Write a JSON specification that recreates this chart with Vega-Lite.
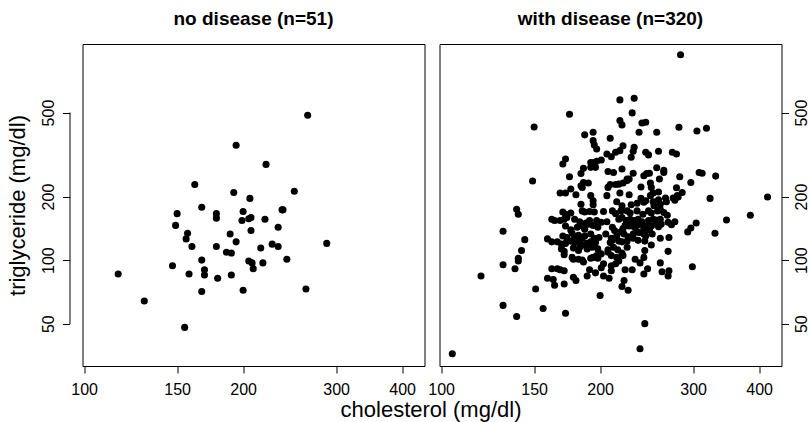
{
  "$schema": "https://vega.github.io/schema/vega-lite/v6.json",
  "autosize": {"type": "pad"},
  "padding": {"left": 5.5, "top": 9, "right": 2, "bottom": 3},
  "background": "white",
  "config": {
    "font": "Liberation Sans",
    "view": {"stroke": "#000", "strokeWidth": 1},
    "axis": {
      "grid": false, "domain": false, "tickColor": "#000", "tickSize": 7, "tickWidth": 1,
      "labelColor": "#000", "labelFontSize": 16, "labelFont": "Liberation Sans",
      "labelFlush": false, "labelOverlap": false,
      "titleFont": "Liberation Sans", "titleFontWeight": "normal", "titleFontSize": 22, "titleColor": "#000"
    },
    "title": {"fontSize": 19, "fontWeight": "bold", "color": "#000", "font": "Liberation Sans", "baseline": "alphabetic", "offset": 15, "anchor": "middle"}
  },
  "datasets": {
    "healthy": [
      {"chol":116,"trig":86},{"chol":130,"trig":64},{"chol":155,"trig":48},{"chol":147,"trig":94},{"chol":149,"trig":146},
      {"chol":150,"trig":166},{"chol":157,"trig":134},{"chol":156,"trig":126},{"chol":160,"trig":116},{"chol":158,"trig":86},
      {"chol":162,"trig":228},{"chol":167,"trig":178},{"chol":167,"trig":100},{"chol":167,"trig":71},{"chol":169,"trig":85},
      {"chol":169,"trig":90},{"chol":178,"trig":166},{"chol":178,"trig":158},{"chol":178,"trig":116},{"chol":179,"trig":82},
      {"chol":186,"trig":109},{"chol":189,"trig":133},{"chol":190,"trig":108},{"chol":190,"trig":85},{"chol":192,"trig":209},
      {"chol":194,"trig":122},{"chol":194,"trig":350},{"chol":199,"trig":154},{"chol":200,"trig":170},{"chol":200,"trig":72},
      {"chol":205,"trig":157},{"chol":207,"trig":159},{"chol":206,"trig":196},{"chol":207,"trig":138},{"chol":205,"trig":99},
      {"chol":208,"trig":97},{"chol":209,"trig":91},{"chol":216,"trig":114},{"chol":218,"trig":97},{"chol":220,"trig":156},
      {"chol":221,"trig":284},{"chol":227,"trig":119},{"chol":233,"trig":143},{"chol":233,"trig":116},{"chol":237,"trig":173},
      {"chol":238,"trig":173},{"chol":242,"trig":101},{"chol":250,"trig":212},{"chol":263,"trig":73},{"chol":265,"trig":485},
      {"chol":288,"trig":120}
    ],
    "disease": [
      {"chol":284,"trig":939},{"chol":218,"trig":574},{"chol":232,"trig":584},{"chol":230,"trig":498},{"chol":175,"trig":491},
      {"chol":150,"trig":427},{"chol":218,"trig":458},{"chol":220,"trig":437},{"chol":240,"trig":446},{"chol":244,"trig":450},
      {"chol":237,"trig":403},{"chol":256,"trig":403},{"chol":282,"trig":426},{"chol":305,"trig":409},{"chol":318,"trig":421},
      {"chol":187,"trig":392},{"chol":194,"trig":403},{"chol":209,"trig":378},{"chol":194,"trig":368},{"chol":195,"trig":351},
      {"chol":197,"trig":336},{"chol":221,"trig":348},{"chol":232,"trig":342},{"chol":231,"trig":328},{"chol":206,"trig":318},
      {"chol":210,"trig":309},{"chol":214,"trig":324},{"chol":218,"trig":330},{"chol":244,"trig":324},{"chol":247,"trig":315},
      {"chol":258,"trig":328},{"chol":274,"trig":324},{"chol":279,"trig":318},{"chol":172,"trig":301},{"chol":170,"trig":285},
      {"chol":192,"trig":290},{"chol":195,"trig":290},{"chol":197,"trig":294},{"chol":201,"trig":298},{"chol":229,"trig":307},
      {"chol":192,"trig":275},{"chol":196,"trig":275},{"chol":186,"trig":272},{"chol":184,"trig":257},{"chol":175,"trig":248},
      {"chol":207,"trig":263},{"chol":212,"trig":260},{"chol":220,"trig":270},{"chol":225,"trig":242},{"chol":231,"trig":258},
      {"chol":242,"trig":251},{"chol":245,"trig":257},{"chol":248,"trig":258},{"chol":256,"trig":274},{"chol":264,"trig":266},
      {"chol":264,"trig":260},{"chol":259,"trig":242},{"chol":283,"trig":248},{"chol":297,"trig":233},{"chol":308,"trig":260},
      {"chol":312,"trig":258},{"chol":331,"trig":250},{"chol":149,"trig":237},{"chol":168,"trig":208},{"chol":172,"trig":208},
      {"chol":176,"trig":217},{"chol":180,"trig":204},{"chol":184,"trig":225},{"chol":186,"trig":233},{"chol":190,"trig":232},
      {"chol":185,"trig":221},{"chol":192,"trig":202},{"chol":207,"trig":221},{"chol":209,"trig":228},{"chol":214,"trig":228},
      {"chol":217,"trig":229},{"chol":221,"trig":232},{"chol":227,"trig":242},{"chol":218,"trig":208},{"chol":227,"trig":204},
      {"chol":239,"trig":222},{"chol":249,"trig":232},{"chol":250,"trig":221},{"chol":252,"trig":208},{"chol":258,"trig":210},
      {"chol":239,"trig":196},{"chol":249,"trig":202},{"chol":266,"trig":197},{"chol":275,"trig":197},{"chol":279,"trig":220},
      {"chol":281,"trig":199},{"chol":286,"trig":209},{"chol":280,"trig":202},{"chol":323,"trig":196},{"chol":415,"trig":199},
      {"chol":206,"trig":202},{"chol":225,"trig":238},
      {"chol":139,"trig":174},{"chol":140,"trig":165},{"chol":131,"trig":137},{"chol":144,"trig":125},{"chol":142,"trig":111},
      {"chol":140,"trig":102},{"chol":140,"trig":99},{"chol":138,"trig":91},{"chol":131,"trig":95},{"chol":119,"trig":84},
      {"chol":159,"trig":126},{"chol":162,"trig":122},{"chol":151,"trig":73},{"chol":159,"trig":82},{"chol":163,"trig":81},
      {"chol":164,"trig":76},{"chol":171,"trig":77},{"chol":156,"trig":59},{"chol":172,"trig":56},{"chol":131,"trig":61},
      {"chol":139,"trig":54},{"chol":105,"trig":36},{"chol":243,"trig":50},{"chol":238,"trig":38},{"chol":200,"trig":68},
      {"chol":220,"trig":75},{"chol":226,"trig":72},{"chol":299,"trig":93},{"chol":304,"trig":150},{"chol":297,"trig":142},
      {"chol":293,"trig":136},{"chol":347,"trig":155},{"chol":385,"trig":163},{"chol":330,"trig":134},{"chol":270,"trig":128},
      {"chol":269,"trig":110},{"chol":260,"trig":127},
      {"chol":184,"trig":184},{"chol":194,"trig":191},{"chol":194,"trig":183},{"chol":220,"trig":181},{"chol":229,"trig":183},
      {"chol":235,"trig":186},{"chol":242,"trig":188},{"chol":244,"trig":191},{"chol":252,"trig":189},{"chol":253,"trig":181},
      {"chol":258,"trig":193},{"chol":260,"trig":184},{"chol":267,"trig":189},{"chol":277,"trig":192},{"chol":215,"trig":189},
      {"chol":170,"trig":169},{"chol":172,"trig":165},{"chol":176,"trig":167},{"chol":185,"trig":171},{"chol":187,"trig":169},
      {"chol":191,"trig":170},{"chol":195,"trig":169},{"chol":203,"trig":170},{"chol":211,"trig":171},{"chol":214,"trig":166},
      {"chol":219,"trig":171},{"chol":225,"trig":171},{"chol":228,"trig":167},{"chol":235,"trig":171},{"chol":241,"trig":165},
      {"chol":247,"trig":171},{"chol":250,"trig":167},{"chol":257,"trig":171},{"chol":260,"trig":174},{"chol":264,"trig":168},
      {"chol":268,"trig":163},
      {"chol":162,"trig":156},{"chol":164,"trig":154},{"chol":168,"trig":154},{"chol":171,"trig":156},{"chol":173,"trig":159},
      {"chol":179,"trig":156},{"chol":183,"trig":152},{"chol":188,"trig":150},{"chol":191,"trig":154},{"chol":197,"trig":154},
      {"chol":201,"trig":151},{"chol":206,"trig":152},{"chol":217,"trig":156},{"chol":220,"trig":159},{"chol":224,"trig":154},
      {"chol":228,"trig":156},{"chol":232,"trig":154},{"chol":236,"trig":156},{"chol":240,"trig":152},{"chol":247,"trig":154},
      {"chol":252,"trig":156},{"chol":255,"trig":155},{"chol":260,"trig":156},{"chol":269,"trig":151},{"chol":277,"trig":152},
      {"chol":172,"trig":145},{"chol":176,"trig":139},{"chol":181,"trig":143},{"chol":185,"trig":145},{"chol":187,"trig":140},
      {"chol":190,"trig":148},{"chol":194,"trig":146},{"chol":198,"trig":143},{"chol":211,"trig":143},{"chol":213,"trig":138},
      {"chol":221,"trig":141},{"chol":223,"trig":146},{"chol":227,"trig":145},{"chol":230,"trig":149},{"chol":232,"trig":144},
      {"chol":235,"trig":146},{"chol":239,"trig":148},{"chol":242,"trig":141},{"chol":244,"trig":145},{"chol":248,"trig":139},
      {"chol":250,"trig":145},{"chol":255,"trig":148},{"chol":258,"trig":144},{"chol":261,"trig":148},{"chol":273,"trig":147},
      {"chol":170,"trig":130},{"chol":173,"trig":128},{"chol":177,"trig":134},{"chol":179,"trig":128},{"chol":182,"trig":131},
      {"chol":185,"trig":127},{"chol":187,"trig":130},{"chol":192,"trig":133},{"chol":195,"trig":127},{"chol":199,"trig":128},
      {"chol":205,"trig":133},{"chol":210,"trig":127},{"chol":215,"trig":130},{"chol":219,"trig":136},{"chol":222,"trig":133},
      {"chol":226,"trig":129},{"chol":231,"trig":133},{"chol":234,"trig":136},{"chol":237,"trig":135},{"chol":242,"trig":133},
      {"chol":244,"trig":130},{"chol":251,"trig":133},
      {"chol":166,"trig":122},{"chol":169,"trig":119},{"chol":172,"trig":120},{"chol":176,"trig":123},{"chol":179,"trig":121},
      {"chol":183,"trig":123},{"chol":186,"trig":118},{"chol":189,"trig":120},{"chol":192,"trig":122},{"chol":196,"trig":121},
      {"chol":209,"trig":121},{"chol":211,"trig":124},{"chol":217,"trig":123},{"chol":220,"trig":122},{"chol":225,"trig":123},
      {"chol":231,"trig":127},{"chol":236,"trig":124},{"chol":243,"trig":123},{"chol":250,"trig":118},
      {"chol":169,"trig":113},{"chol":171,"trig":110},{"chol":178,"trig":114},{"chol":182,"trig":111},{"chol":183,"trig":115},
      {"chol":189,"trig":113},{"chol":193,"trig":115},{"chol":195,"trig":116},{"chol":198,"trig":113},{"chol":207,"trig":112},
      {"chol":212,"trig":115},{"chol":216,"trig":112},{"chol":220,"trig":108},{"chol":225,"trig":115},{"chol":243,"trig":111},
      {"chol":171,"trig":106},{"chol":177,"trig":103},{"chol":178,"trig":101},{"chol":182,"trig":101},{"chol":185,"trig":100},
      {"chol":192,"trig":102},{"chol":194,"trig":103},{"chol":197,"trig":105},{"chol":198,"trig":102},{"chol":201,"trig":107},
      {"chol":207,"trig":109},{"chol":210,"trig":105},{"chol":215,"trig":103},{"chol":217,"trig":99},{"chol":221,"trig":105},
      {"chol":233,"trig":101},{"chol":242,"trig":103},
      {"chol":166,"trig":91},{"chol":162,"trig":91},{"chol":168,"trig":90},{"chol":171,"trig":89},{"chol":186,"trig":98},
      {"chol":191,"trig":90},{"chol":196,"trig":87},{"chol":201,"trig":92},{"chol":203,"trig":96},{"chol":210,"trig":94},
      {"chol":210,"trig":89},{"chol":214,"trig":96},{"chol":223,"trig":90},{"chol":230,"trig":90},{"chol":238,"trig":97},
      {"chol":246,"trig":91},{"chol":260,"trig":97},{"chol":262,"trig":88},
      {"chol":178,"trig":83},{"chol":180,"trig":80},{"chol":189,"trig":84},{"chol":203,"trig":84},{"chol":208,"trig":82},
      {"chol":222,"trig":80},{"chol":242,"trig":86},{"chol":270,"trig":89},{"chol":269,"trig":84}
    ]
  },
  "spacing": 15,
  "bounds": "flush",
  "hconcat": [
    {
      "width": 342,
      "height": 322,
      "title": {"text": "no disease (n=51)"},
      "data": {"name": "healthy"},
      "mark": {"type": "circle", "color": "#000", "size": 50, "opacity": 1},
      "encoding": {
        "x": {
          "field": "chol", "type": "quantitative",
          "scale": {"type": "log", "domain": [99.3, 441], "nice": false, "zero": false},
          "axis": {
            "values": [100, 150, 200, 300, 400],
            "labelBaseline": "top", "labelPadding": 8,
            "title": "cholesterol (mg/dl)",
            "titleX": 348, "titleY": 50, "titleAlign": "center", "titleBaseline": "alphabetic"
          }
        },
        "y": {
          "field": "trig", "type": "quantitative",
          "scale": {"type": "log", "domain": [31.5, 1056], "nice": false, "zero": false},
          "axis": {
            "orient": "left", "values": [50, 100, 200, 500], "offset": 13,
            "domain": true, "domainColor": "#000", "domainWidth": 1, "domainDash": [0, 42.4, 211.6, 400],
            "labelAngle": 270, "labelAlign": "center", "labelBaseline": "alphabetic", "labelPadding": 9,
            "title": "triglyceride (mg/dl)",
            "titleAngle": 270, "titleX": -45, "titleY": 161, "titleAlign": "center", "titleBaseline": "alphabetic"
          }
        }
      }
    },
    {
      "width": 342,
      "height": 322,
      "title": {"text": "with disease (n=320)"},
      "data": {"name": "disease"},
      "mark": {"type": "circle", "color": "#000", "size": 50, "opacity": 1},
      "encoding": {
        "x": {
          "field": "chol", "type": "quantitative",
          "scale": {"type": "log", "domain": [99.3, 441], "nice": false, "zero": false},
          "axis": {
            "values": [100, 150, 200, 300, 400],
            "labelBaseline": "top", "labelPadding": 8,
            "title": null
          }
        },
        "y": {
          "field": "trig", "type": "quantitative",
          "scale": {"type": "log", "domain": [31.5, 1056], "nice": false, "zero": false},
          "axis": {
            "orient": "right", "values": [50, 100, 200, 500],
            "labelAngle": 270, "labelAlign": "center", "labelBaseline": "top", "labelPadding": 5,
            "title": null
          }
        }
      }
    }
  ]
}
